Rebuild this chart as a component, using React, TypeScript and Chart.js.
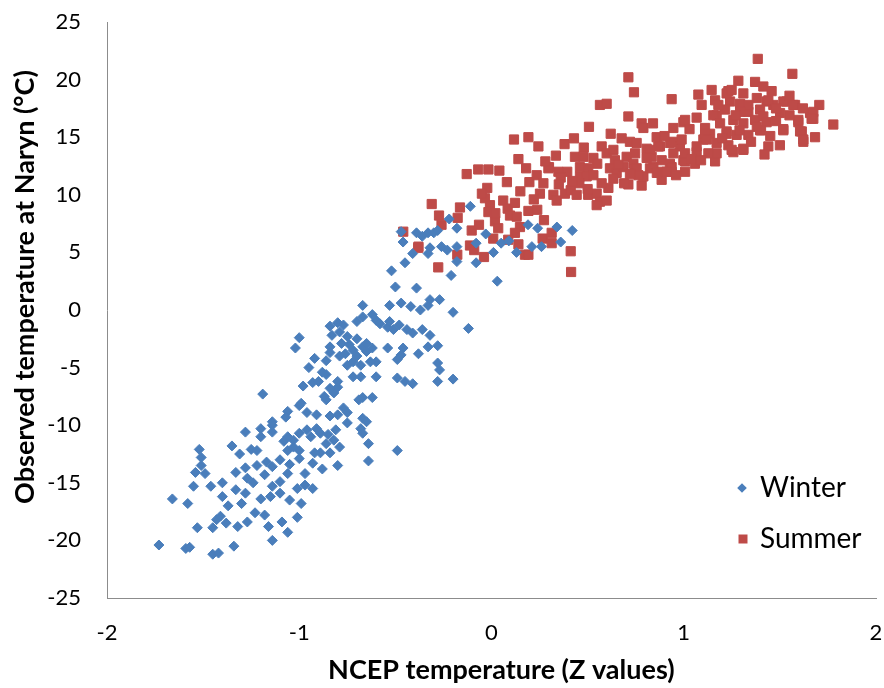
import React, { useEffect, useRef } from "react";
import { Chart, registerables } from "chart.js";

Chart.register(...registerables);

const xTitle = "   NCEP temperature (Z values)";
const yTitle = "       Observed temperature at Naryn (°C)";
const xMin = -2, xMax = 2, xStep = 1;
const yMin = -25, yMax = 25, yStep = 5;
const seriesNames = ["Winter", "Summer"];
const seriesColors = ["#4A7EBB", "#BE4B48"];

const winter: [number, number][] = [
  [-1.73,-20.4],[-1.59,-20.7],[-1.57,-20.6],[-1.45,-21.2],[-1.42,-21.1],[-1.34,-20.5],[-1.14,-20.0],
  [-1.53,-18.9],[-1.45,-18.9],[-1.38,-18.5],[-1.32,-18.8],[-1.27,-18.4],[-1.06,-19.3],[-1.09,-18.4],
  [-1.01,-18.0],[-1.66,-16.4],[-1.58,-16.8],[-1.55,-15.3],[-1.46,-15.3],[-1.40,-15.0],[-1.40,-16.2],
  [-1.33,-14.1],[-1.28,-13.7],[-1.54,-14.1],[-1.51,-13.5],[-1.49,-14.2],[-1.51,-12.8],[-1.52,-12.1],
  [-1.35,-11.8],[-1.31,-12.5],[-1.28,-10.6],[-1.25,-12.1],[-1.22,-12.2],[-1.19,-7.3],[-1.20,-10.3],
  [-1.14,-10.6],[-1.14,-10.0],[-1.22,-13.5],[-1.17,-13.2],[-1.14,-13.6],[-1.10,-13.0],[-1.06,-12.2],
  [-1.03,-11.3],[-1.00,-10.7],[-0.96,-10.4],[-0.91,-10.3],[-1.24,-15.0],[-1.14,-15.3],[-1.10,-14.9],
  [-1.15,-16.2],[-1.10,-15.9],[-1.05,-16.5],[-0.99,-16.8],[-1.01,-15.5],[-0.97,-15.2],[-0.93,-15.5],
  [-0.97,-14.2],[-0.93,-13.3],[-0.89,-12.4],[-0.84,-12.4],[-0.80,-13.5],[-0.79,-11.9],[-0.86,-11.6],
  [-0.82,-11.3],[-0.92,-12.4],[-1.00,-12.2],[-0.81,-10.4],[-0.89,-10.7],[-0.94,-11.0],[-1.00,-12.9],
  [-1.06,-11.0],[-1.03,-11.9],[-1.08,-11.4],[-1.20,-11.0],[-1.28,-15.9],[-1.30,-16.8],[-1.33,-15.6],
  [-1.43,-18.2],[-1.41,-17.9],[-1.37,-17.0],[-1.23,-17.6],[-1.18,-17.8],[-1.16,-18.8],[-1.20,-16.4],
  [-1.27,-14.6],[-1.18,-14.3],[-1.06,-14.2],[-1.05,-13.4],[-0.88,-13.8],[-0.85,-10.8],
  [-0.69,-7.8],[-0.67,-7.6],[-0.62,-7.6],[-0.77,-8.5],[-0.75,-8.9],[-0.75,-9.8],[-0.67,-9.4],
  [-0.65,-9.7],[-0.68,-10.3],[-0.67,-10.7],[-0.64,-11.6],[-0.64,-13.1],[-0.49,-12.2],[-0.80,-9.1],
  [-0.84,-9.2],[-0.91,-9.1],[-0.96,-8.9],[-1.00,-8.3],[-0.99,-8.1],[-1.06,-8.8],[-1.07,-9.3],
  [-1.14,-9.7],[-0.86,-7.8],[-0.87,-7.5],[-0.93,-6.3],[-0.90,-6.2],[-0.88,-5.4],[-0.86,-5.6],
  [-0.82,-7.2],[-0.80,-6.7],[-0.84,-6.8],[-0.80,-6.2],[-0.72,-5.8],[-0.68,-5.8],[-0.60,-5.8],
  [-0.49,-5.9],[-0.45,-6.2],[-0.41,-6.4],[-0.28,-6.2],[-0.20,-6.0],[-0.27,-5.2],[-0.28,-4.6],
  [-0.33,-3.2],[-0.38,-3.8],[-0.46,-3.3],[-0.47,-3.9],[-0.49,-4.3],[-0.54,-3.3],[-0.60,-4.5],
  [-0.63,-4.5],[-0.68,-4.8],[-0.72,-4.5],[-0.75,-4.8],[-0.79,-4.0],[-0.76,-3.8],[-0.72,-3.5],
  [-0.67,-3.2],[-0.65,-3.6],[-0.65,-2.9],[-0.70,-2.5],[-0.75,-2.3],[-0.79,-1.9],[-0.83,-2.2],
  [-0.84,-3.2],[-0.84,-3.7],[-0.84,-1.4],[-0.77,-1.3],[-0.70,-1.0],[-0.67,-0.6],[-0.62,-0.4],
  [-0.60,-0.9],[-0.58,-1.2],[-0.54,-1.5],[-0.53,-1.0],[-0.51,-1.7],[-0.48,-1.3],[-0.44,-1.7],
  [-0.41,-2.0],[-0.36,-1.7],[-0.32,-2.2],[-0.28,-3.1],[-0.20,-0.2],[-0.12,-1.6],[-0.42,0.3],
  [-0.37,0.0],[-0.47,0.6],[-0.53,0.4],[-0.67,0.4],[-0.33,0.4],[-1.00,-2.4],[-1.02,-3.3],
  [-0.32,0.9],[-0.27,0.9],[-0.80,-1.1],[-0.78,-2.9],[-0.74,-3.0],[-0.70,-4.0],[-0.62,-3.3],
  [-0.92,-4.2],[-0.95,-5.0],[-0.98,-6.6],[-0.86,-4.4],
  [-0.11,9.0],[-0.22,7.9],[-0.18,7.1],[-0.46,5.9],[-0.39,6.7],[-0.33,6.7],[-0.30,6.7],
  [-0.32,5.4],[-0.33,4.9],[-0.26,5.5],[-0.23,5.2],[-0.18,5.5],[-0.18,4.2],[-0.41,4.9],
  [-0.45,4.1],[-0.52,3.4],[-0.21,3.0],[-0.50,2.0],[-0.39,1.9],[-0.08,4.1],[-0.08,5.8],
  [0.01,5.0],[0.03,2.5],[0.05,5.8],[0.13,5.0],[0.19,7.4],[0.24,7.1],[0.21,5.5],[0.26,5.5],
  [0.34,7.2],[0.36,5.9],[0.42,6.9],[-0.47,6.8],[-0.36,6.4],[-0.28,6.9],[0.09,6.0],[-0.03,6.6],
];

const summer: [number, number][] = [
  [1.385,21.8],[1.565,20.5],[0.712,20.2],[0.741,18.9],[0.937,18.3],[0.564,17.8],[0.599,17.9],
  [0.712,16.8],[0.781,16.2],[0.790,15.8],[0.507,15.9],[0.429,14.9],[0.117,14.8],[0.192,15.0],
  [0.244,14.2],[0.140,13.1],[0.335,13.4],[-0.129,11.8],[-0.069,12.2],[-0.016,12.2],[0.041,12.1],
  [-0.022,10.6],[-0.034,9.7],[-0.008,9.1],[-0.016,8.5],[0.018,7.7],[0.035,7.1],[0.009,6.2],
  [-0.311,9.2],[-0.273,8.2],[-0.164,8.9],[-0.176,8.0],[-0.459,6.8],[-0.381,5.4],[-0.277,3.7],
  [-0.178,4.8],[-0.103,6.9],[-0.065,7.4],[-0.112,5.6],[-0.090,5.2],[-0.039,4.6],[0.061,9.5],
  [0.084,8.8],[0.122,9.3],[0.096,8.2],[0.131,8.1],[0.192,8.6],[0.238,8.7],[0.273,7.8],
  [0.148,7.2],[0.122,6.7],[0.087,6.1],[0.140,5.7],[0.174,4.8],[0.192,4.8],[0.266,6.2],
  [0.313,6.7],[0.313,5.8],[0.412,5.1],[0.414,3.3],[0.197,11.1],[0.235,11.7],[0.270,11.0],
  [0.252,10.1],[0.299,12.4],[0.348,12.0],[0.394,12.0],[0.322,10.0],[0.339,9.5],[0.382,10.1],
  [0.412,10.4],[0.443,10.0],[0.434,13.3],[0.478,13.3],[0.530,13.2],[0.460,12.4],[0.503,12.3],
  [0.460,11.6],[0.495,11.6],[0.530,11.7],[0.457,11.0],[0.503,10.0],[0.547,10.1],[0.564,9.4],
  [0.599,9.5],[0.547,9.1],[0.608,10.6],[0.573,11.0],[0.573,14.2],[0.599,13.6],[0.634,13.9],
  [0.642,13.0],[0.616,12.3],[0.651,11.9],[0.634,11.4],[0.677,14.9],[0.720,14.6],[0.755,14.5],
  [0.703,13.3],[0.686,12.4],[0.738,12.7],[0.712,10.9],[0.781,10.8],[0.790,11.6],[0.747,12.2],
  [0.807,14.0],[0.859,15.0],[0.876,14.2],[0.833,13.3],[0.842,12.4],[0.885,12.0],[0.885,11.3],
  [0.937,12.0],[0.928,12.7],[0.946,15.8],[0.998,16.3],[0.946,14.6],[0.980,14.2],[0.998,13.0],
  [1.058,12.7],[1.067,13.7],[1.102,14.8],[1.137,15.3],[1.163,12.9],[1.171,13.6],[1.171,14.5],
  [1.067,16.7],[1.111,15.8],[1.076,18.7],[1.145,19.1],[1.163,18.2],[1.093,17.8],[1.171,16.9],
  [1.232,19.0],[1.284,19.9],[1.371,19.8],[1.414,19.4],[1.457,19.0],[1.431,18.1],[1.466,17.8],
  [1.397,17.4],[1.336,17.2],[1.293,17.9],[1.241,18.1],[1.215,17.4],[1.154,16.9],[1.189,16.2],
  [1.258,16.5],[1.310,16.2],[1.371,16.5],[1.414,16.8],[1.431,16.3],[1.223,15.5],[1.275,15.2],
  [1.336,15.2],[1.397,15.6],[1.232,14.3],[1.258,13.7],[1.310,14.0],[1.440,14.2],[1.518,15.6],
  [1.535,18.1],[1.579,17.8],[1.596,16.3],[1.614,15.5],[1.622,14.6],[1.657,17.1],[1.674,16.6],
  [1.683,15.0],[1.705,17.8],[1.778,16.1],[1.501,17.1],[1.223,18.8],[1.249,19.1],[1.440,18.2],
  [1.518,18.1],[1.570,17.8],[1.674,17.2],[1.665,16.6],[1.596,16.5],[1.605,15.5],[1.622,14.8],
  [1.518,15.7],[1.402,15.6],[1.310,13.9],[1.249,13.9],[1.007,12.9],[0.937,12.4],[1.007,16.5],
  [1.336,17.8],[1.293,17.2],[1.380,15.9],[1.223,15.3],[1.111,15.3],[1.120,14.8],[1.067,14.2],
  [0.989,14.8],[0.928,14.5],[0.868,14.2],[0.824,13.9],[0.747,13.6],[0.807,13.2],[0.885,13.0],
  [0.946,13.6],[1.007,13.6],[1.128,13.6],[0.755,12.3],[0.824,12.3],[0.764,11.7],[0.911,12.0],
  [1.007,12.0],[0.296,12.3],[-0.380,5.5],[0.360,11.5],[0.420,11.2],[0.350,10.9],[0.500,10.5],
  [0.550,12.7],[0.660,12.6],[0.690,11.0],[0.720,11.8],[0.860,11.9],[0.960,11.7],[1.040,13.1],
  [1.090,13.0],[1.200,14.9],[1.290,15.6],[1.350,14.6],[1.450,15.1],[1.480,16.4],[1.550,16.9],
  [1.500,14.3],[1.420,13.5],[1.620,17.5],[1.550,18.6],[1.480,17.5],[1.380,18.4],[1.310,18.8],
  [1.270,16.9],[1.180,17.8],[1.030,15.7],[0.900,15.1],[0.840,16.2],[0.620,15.3],[0.480,14.1],
  [0.380,14.4],[0.280,12.9],[0.180,12.3],[0.080,11.1],[-0.050,10.1],[0.020,8.4],[0.150,10.3],
  [0.220,9.6],[-0.260,7.4],
];

const FONT = "Lato, 'Open Sans', 'Liberation Sans', sans-serif";

const legendPlugin = {
  id: "insideLegend",
  afterDraw(chart: any) {
    const { ctx, chartArea } = chart;
    const x0 = chartArea.right - 134;
    const rows = [chartArea.bottom - 110, chartArea.bottom - 59];
    ctx.save();
    rows.forEach((y, i) => {
      ctx.fillStyle = seriesColors[i];
      ctx.beginPath();
      if (i === 0) {
        const r = 4.8;
        ctx.moveTo(x0 - r, y);
        ctx.lineTo(x0, y - r);
        ctx.lineTo(x0 + r, y);
        ctx.lineTo(x0, y + r);
        ctx.closePath();
      } else {
        ctx.rect(x0 - 4.5 + 1, y - 4.5, 9, 9);
      }
      ctx.fill();
      ctx.fillStyle = "#000";
      ctx.font = `28px ${FONT}`;
      ctx.textBaseline = "middle";
      ctx.textAlign = "left";
      ctx.fillText(seriesNames[i], x0 + 18, y);
    });
    ctx.restore();
  },
};

export default function App() {
  const ref = useRef<HTMLCanvasElement>(null);
  useEffect(() => {
    document.body.style.margin = "0";
    const canvas = ref.current!;
    const chart = new Chart(canvas, {
      type: "scatter",
      data: {
        datasets: [
          {
            label: seriesNames[0],
            data: winter.map(([x, y]) => ({ x, y })),
            pointStyle: "rectRot",
            pointRadius: 5,
            pointBorderWidth: 1,
            backgroundColor: seriesColors[0],
            borderColor: seriesColors[0],
          },
          {
            label: seriesNames[1],
            data: summer.map(([x, y]) => ({ x, y })),
            pointStyle: "rect",
            pointRadius: 6.5,
            pointBorderWidth: 1,
            backgroundColor: seriesColors[1],
            borderColor: seriesColors[1],
          },
        ],
      },
      options: {
        animation: false,
        responsive: false,
        layout: { padding: { top: 22, right: 8, left: 0, bottom: 0 } },
        plugins: {
          legend: { display: false },
          tooltip: { enabled: false },
        },
        scales: {
          x: {
            type: "linear",
            min: xMin,
            max: xMax,
            grid: { display: false, drawTicks: false },
            border: { display: true, color: "#8c8c8c", width: 1 },
            ticks: {
              stepSize: xStep,
              color: "#000",
              font: { family: FONT, size: 22 },
              padding: 22,
            },
            title: {
              display: true,
              text: xTitle,
              color: "#000",
              font: { family: FONT, size: 27, weight: "bold" },
              padding: { top: 0, bottom: 2 },
            },
            afterFit: (s: any) => {
              s.height = 90;
              s.paddingLeft = 0;
              s.paddingRight = 0;
            },
          },
          y: {
            type: "linear",
            min: yMin,
            max: yMax,
            grid: { display: false, drawTicks: false },
            border: { display: true, color: "#8c8c8c", width: 1 },
            ticks: {
              stepSize: yStep,
              color: "#000",
              font: { family: FONT, size: 22 },
              padding: 26,
            },
            title: {
              display: true,
              text: yTitle,
              color: "#000",
              font: { family: FONT, size: 27, weight: "bold" },
              padding: { top: 9, bottom: 0 },
            },
            afterFit: (s: any) => {
              s.width = 107;
              s.paddingTop = 0;
              s.paddingBottom = 0;
            },
          },
        },
      },
      plugins: [legendPlugin],
    });
    return () => chart.destroy();
  }, []);
  return (
    <div style={{ width: 884, height: 688 }}>
      <canvas ref={ref} width={884} height={688} style={{ display: "block" }} />
    </div>
  );
}
